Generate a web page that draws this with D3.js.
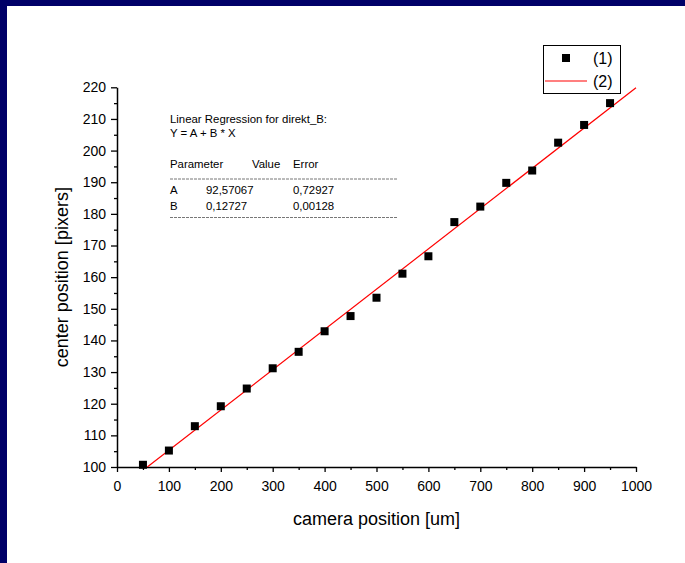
<!DOCTYPE html>
<html>
<head>
<meta charset="utf-8">
<script src="https://cdn.jsdelivr.net/npm/d3@7"></script>
<style>
  body { margin: 0; background: #fff; }
  text { font-family: "Liberation Sans", Arial, sans-serif; fill: #000; }
</style>
</head>
<body>
<script>
var w = 685;
var h = 563;

// camera position [um] and measured center position [pixers]
var cameraPos = [50, 100, 150, 200, 250, 300, 350, 400, 450, 500,
                 550, 600, 650, 700, 750, 800, 850, 900, 950];
var centerPos = [100.7, 105.2, 112.9, 119.2, 124.8, 131.2, 136.4, 142.9, 147.7, 153.5,
                 161.1, 166.6, 177.4, 182.3, 189.8, 193.7, 202.5, 208.1, 215.0];

// fit result shown in the text box
var fitA = 92.57067;
var fitB = 0.12727;
var fitRows = [["A", "92,57067", "0,72927"], ["B", "0,12727", "0,00128"]];

var xTicks = [0, 100, 200, 300, 400, 500, 600, 700, 800, 900, 1000];
var yTicks = [100, 110, 120, 130, 140, 150, 160, 170, 180, 190, 200, 210, 220];
var legendLabels = ["(1)", "(2)"];

var svg = d3.select("body").append("svg")
    .attr("width", w)
    .attr("height", h);

//white page with the navy frame on left and top
svg.append("rect").attr("width", w).attr("height", h).attr("fill", "#000068");
svg.append("rect").attr("x", 7).attr("y", 6).attr("width", w - 7).attr("height", h - 6).attr("fill", "#fff");

var x = d3.scaleLinear().domain([0, 1000]).range([117, 636]);
var y = d3.scaleLinear().domain([100, 220]).range([467, 87.3]);

//clip so the fit line stops at the axes
svg.append("clipPath").attr("id", "plotclip")
  .append("rect")
    .attr("x", x(0)).attr("y", y(220) - 10)
    .attr("width", x(1000) - x(0) + 5).attr("height", y(100) - y(220) + 10);

//minor ticks first, then major with labels
svg.append("g")
    .attr("transform", "translate(0," + y(100) + ")")
    .call(d3.axisBottom(x).tickValues(d3.range(50, 1000, 100)).tickSize(3).tickFormat(""))
    .call(function(g) { g.select(".domain").remove(); g.selectAll("line").attr("stroke-width", 1.3); });

var xAxis = svg.append("g")
    .attr("transform", "translate(0," + y(100) + ")")
    .call(d3.axisBottom(x).tickValues(xTicks).tickFormat(d3.format("d")).tickSize(5).tickSizeOuter(0).tickPadding(9));
xAxis.select(".domain").attr("stroke-width", 1.5);
xAxis.selectAll("line").attr("stroke-width", 1.3);
xAxis.selectAll("text").attr("font-size", 14).attr("font-family", "Liberation Sans, Arial, sans-serif");

svg.append("g")
    .attr("transform", "translate(" + x(0) + ",0)")
    .call(d3.axisLeft(y).tickValues(d3.range(105, 220, 10)).tickSize(3).tickFormat(""))
    .call(function(g) { g.select(".domain").remove(); g.selectAll("line").attr("stroke-width", 1.3); });

var yAxis = svg.append("g")
    .attr("transform", "translate(" + x(0) + ",0)")
    .call(d3.axisLeft(y).tickValues(yTicks).tickFormat(d3.format("d")).tickSize(6).tickSizeOuter(0).tickPadding(5));
yAxis.select(".domain").attr("stroke-width", 1.5);
yAxis.selectAll("line").attr("stroke-width", 1.3);
yAxis.selectAll("text").attr("font-size", 14).attr("font-family", "Liberation Sans, Arial, sans-serif");

//axis titles
svg.append("text")
    .attr("x", (x(0) + x(1000)) / 2)
    .attr("y", 519)
    .attr("text-anchor", "middle")
    .attr("dominant-baseline", "central")
    .attr("font-size", 18)
    .text("camera position [um]");

svg.append("text")
    .attr("transform", "translate(62," + (y(100) + y(220)) / 2 + ") rotate(-90)")
    .attr("text-anchor", "middle")
    .attr("dominant-baseline", "central")
    .attr("font-size", 18)
    .text("center position [pixers]");

//linear fit line Y = A + B * X
svg.append("line")
    .attr("clip-path", "url(#plotclip)")
    .attr("x1", x((100 - fitA) / fitB)).attr("y1", y(100))
    .attr("x2", x(1000)).attr("y2", y(fitA + fitB * 1000))
    .attr("stroke", "#ff0000")
    .attr("stroke-width", 1.2);

//data points
svg.selectAll("rect.pt")
    .data(cameraPos)
    .enter().append("rect")
    .attr("class", "pt")
    .attr("x", function(d) { return x(d) - 4; })
    .attr("y", function(d, i) { return y(centerPos[i]) - 4; })
    .attr("width", 8)
    .attr("height", 8)
    .attr("fill", "#000");

//fit text box
var fs = 11.4;
var fit = svg.append("g");
fit.append("text").attr("x", 170).attr("y", 122.5).attr("font-size", fs).text("Linear Regression for direkt_B:");
fit.append("text").attr("x", 170).attr("y", 136.5).attr("font-size", fs).text("Y = A + B * X");
fit.append("text").attr("x", 170).attr("y", 167.5).attr("font-size", fs).text("Parameter");
fit.append("text").attr("x", 252).attr("y", 167.5).attr("font-size", fs).text("Value");
fit.append("text").attr("x", 293).attr("y", 167.5).attr("font-size", fs).text("Error");
fit.selectAll("g.row")
    .data(fitRows)
    .enter().append("g")
    .attr("class", "row")
    .each(function(d, i) {
        var g = d3.select(this);
        var yy = 194 + i * 15.8;
        g.append("text").attr("x", 170).attr("y", yy).attr("font-size", fs).text(d[0]);
        g.append("text").attr("x", 206).attr("y", yy).attr("font-size", fs).text(d[1]);
        g.append("text").attr("x", 293).attr("y", yy).attr("font-size", fs).text(d[2]);
    });
[179, 217.5].forEach(function(yy) {
    fit.append("line")
        .attr("x1", 170).attr("x2", 397)
        .attr("y1", yy).attr("y2", yy)
        .attr("stroke", "#777")
        .attr("stroke-width", 1)
        .attr("stroke-dasharray", "3,1");
});

//legend
var legend = svg.append("g");
legend.append("rect")
    .attr("x", 543.5).attr("y", 45.5)
    .attr("width", 77).attr("height", 48)
    .attr("fill", "#fff")
    .attr("stroke", "#000")
    .attr("stroke-width", 1);
legend.append("rect")
    .attr("x", 562).attr("y", 54)
    .attr("width", 8).attr("height", 8)
    .attr("fill", "#000");
legend.append("line")
    .attr("x1", 545).attr("x2", 587)
    .attr("y1", 81).attr("y2", 81)
    .attr("stroke", "#ff0000").attr("stroke-width", 1.2);
legend.selectAll("text")
    .data(legendLabels)
    .enter().append("text")
    .attr("x", 593)
    .attr("y", function(d, i) { return 58 + i * 23.5; })
    .attr("dominant-baseline", "central")
    .attr("font-size", 16)
    .text(function(d) { return d; });
</script>
</body>
</html>
